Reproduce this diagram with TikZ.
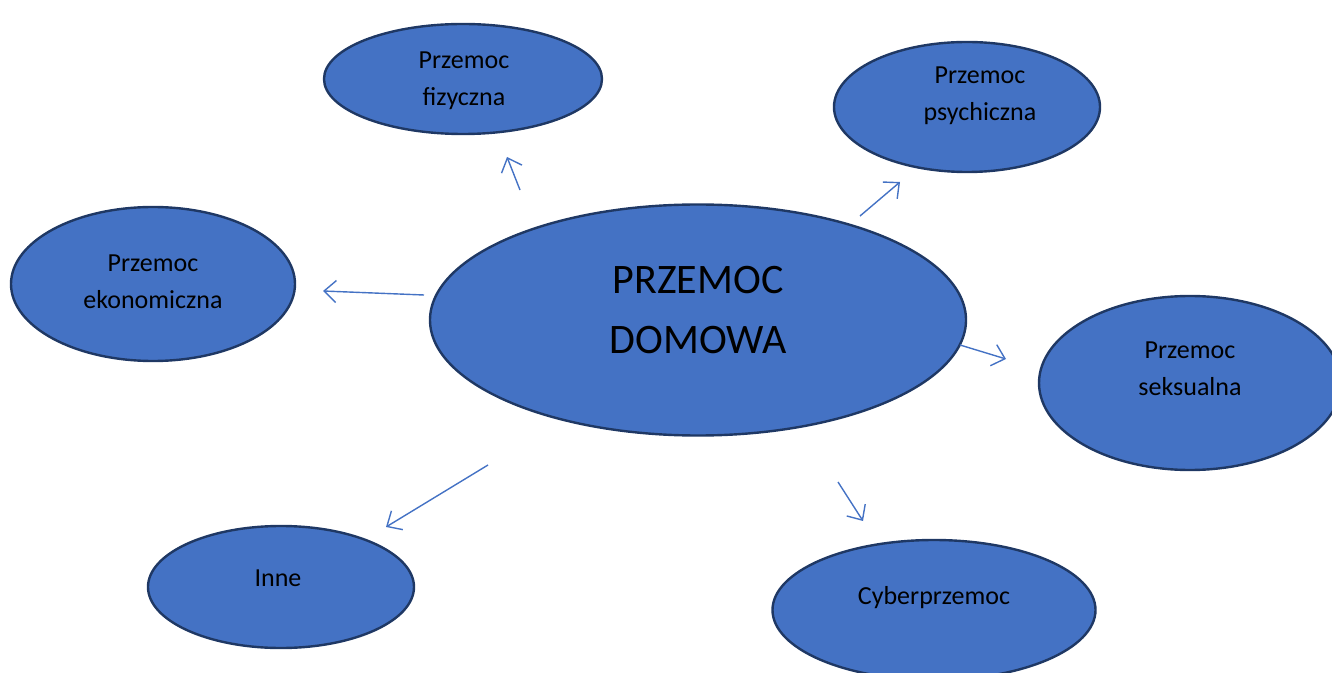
\documentclass[tikz,border=0pt]{standalone}
\usepackage{fontspec}
\setmainfont{Carlito}
\usetikzlibrary{shapes.geometric,arrows.meta}
\definecolor{fillblue}{HTML}{4472C4}
\definecolor{edgeblue}{HTML}{1F3864}
\definecolor{arrowblue}{HTML}{4472C4}
\tikzset{
  oval/.style={ellipse, draw=edgeblue, fill=fillblue, line width=1.2pt, inner sep=0pt},
  lbl/.style={align=center, font=\fontsize{13}{18.5}\selectfont, text=black, inner sep=0pt, yshift=-1.2pt},
  biglbl/.style={align=center, font=\fontsize{21}{30}\selectfont, text=black, inner sep=0pt},
  arr/.style={draw=arrowblue, line width=0.7pt, -{Straight Barb[length=6pt,width=11pt,line width=0.7pt]}}
}
\begin{document}
\begin{tikzpicture}[x=0.5pt,y=-0.5pt]
\useasboundingbox (0,0) rectangle (1332,673);
\begin{scope}
\clip (0,0) rectangle (1332,673);
\node[oval, minimum width=278pt*0.5, minimum height=110pt*0.5] (fiz) at (463,79) {};
\node[oval, minimum width=266pt*0.5, minimum height=130pt*0.5] (psy) at (967,107) {};
\node[oval, minimum width=284pt*0.5, minimum height=154pt*0.5] (eko) at (153,284) {};
\node[oval, minimum width=536pt*0.5, minimum height=231pt*0.5] (dom) at (698,320) {};
\node[oval, minimum width=302pt*0.5, minimum height=174pt*0.5] (sek) at (1190,383) {};
\node[oval, minimum width=266pt*0.5, minimum height=122pt*0.5] (inne) at (281,587) {};
\node[oval, minimum width=323pt*0.5, minimum height=140pt*0.5] (cyb) at (934,610) {};
\end{scope}
\node[lbl] (fizt) at (464,78.5) {Przemoc\\fizyczna};
\node[lbl] (psyt) at (980,93.5) {Przemoc\\psychiczna};
\node[lbl] (ekot) at (153,279.5) {Przemoc\\ekonomiczna};
\node[biglbl] (domt) at (698,310) {PRZEMOC\\DOMOWA};
\node[lbl] (sekt) at (1190,366.5) {Przemoc\\seksualna};
\node[lbl] (innet) at (278,576) {Inne};
\node[lbl] (cybt) at (934,595) {Cyberprzemoc};
\coordinate (a1s) at (520,190); \coordinate (a1e) at (507,157);
\coordinate (a2s) at (860,216); \coordinate (a2e) at (900,182);
\coordinate (a3s) at (424,295); \coordinate (a3e) at (323,291);
\coordinate (a4s) at (960,345); \coordinate (a4e) at (1006,359);
\coordinate (a5s) at (488,465); \coordinate (a5e) at (386,527);
\coordinate (a6s) at (838,482); \coordinate (a6e) at (863,521);
\draw[arr] (a1s) -- (a1e);
\draw[arr] (a2s) -- (a2e);
\draw[arr] (a3s) -- (a3e);
\draw[arr] (a4s) -- (a4e);
\draw[arr] (a5s) -- (a5e);
\draw[arr] (a6s) -- (a6e);
\end{tikzpicture}
\end{document}
